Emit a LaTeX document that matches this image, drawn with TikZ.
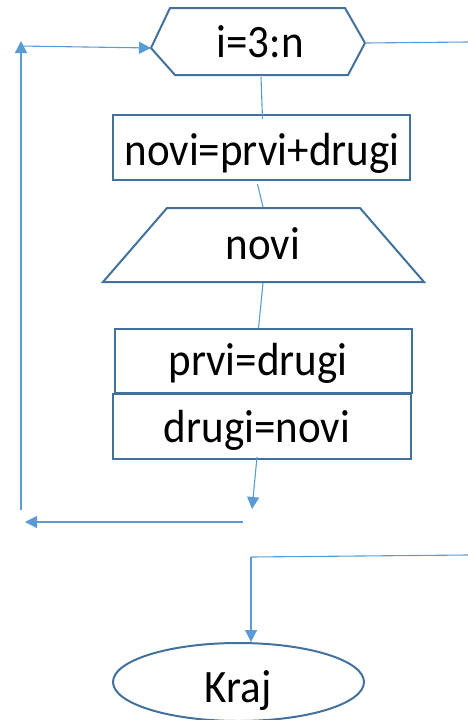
\documentclass[tikz,border=0pt]{standalone}
\usepackage{fontspec}
\setmainfont{Carlito}
\usetikzlibrary{arrows.meta,shapes.geometric}
\definecolor{shapeblue}{HTML}{41719C}
\definecolor{linkblue}{HTML}{5B9BD5}
\tikzset{
  outline/.style={draw=shapeblue, line width=2pt, line join=miter},
  stmtbox/.style={outline, rectangle, inner sep=0pt},
  endoval/.style={outline, ellipse, inner sep=0pt, minimum width=251pt, minimum height=78pt},
  link/.style={draw=linkblue, line width=1.1pt},
  arrowlink/.style={link, -{Triangle[length=12pt,width=12pt]}},
  txt/.style={font=\fontsize{43}{50}\selectfont, inner sep=0pt, anchor=base, yscale=1.08}
}
\begin{document}
\begin{tikzpicture}[x=1pt,y=-1pt]
\useasboundingbox (0,0) rectangle (468,720);

% loop header (hexagon)
\coordinate (hexW) at (151,48);
\coordinate (hexE) at (365,43);
\coordinate (hexS) at (261,77);
\draw[outline] (hexW) -- (170,8) -- (345,8) -- (hexE) -- (348,75) -- (175,75) -- cycle;
\node[txt] (loop) at (260,57) {i=3:n};

% loop body
\node[stmtbox, minimum width=297pt, minimum height=65pt] (sum) at (261.5,147.5) {};
\node[txt] at (262,165) {novi=prvi+drugi};

% output (trapezoid)
\coordinate (outN) at (263,207);
\coordinate (outS) at (263,283);
\draw[outline] (103,282) -- (167,208) -- (360,208) -- (424,282) -- cycle;
\node[txt] (out) at (263,259) {novi};

\node[stmtbox, minimum width=297pt, minimum height=64pt] (shift1) at (263.5,361) {};
\node[txt] at (258,375) {prvi=drugi};
\node[stmtbox, minimum width=298pt, minimum height=65pt] (shift2) at (262,426.5) {};
\node[txt] at (257,442) {drugi=novi};

% end
\node[endoval] (end) at (238.5,682) {};
\node[txt] at (238,702) {Kraj};

% loop-back and exit points
\coordinate (bodyEnd) at (252,509);
\coordinate (backR) at (243,522);
\coordinate (backL) at (25,522);
\coordinate (upB) at (21,510);
\coordinate (upT) at (21,41);
\coordinate (inL) at (20,46);
\coordinate (exitR) at (468,42);
\coordinate (exitIn) at (468,555);
\coordinate (exitC) at (251,557);

% connectors
\draw[link] (hexS) -- ([xshift=1pt,yshift=-5pt]sum.north);
\draw[link] ([xshift=-4pt,yshift=-3pt]sum.south) -- (outN);
\draw[link] (outS) -- ([xshift=-5pt]shift1.north);
\draw[arrowlink] ([xshift=-5pt,yshift=3pt]shift2.south) -- (bodyEnd);
\draw[arrowlink] (backR) -- (backL);
\draw[arrowlink] (upB) -- (upT);
\draw[arrowlink] (inL) -- (hexW);
\draw[link] (hexE) -- (exitR);
\draw[link] (exitIn) -- (exitC);
\draw[arrowlink] (exitC) -- (end.north -| exitC);
\end{tikzpicture}
\end{document}
